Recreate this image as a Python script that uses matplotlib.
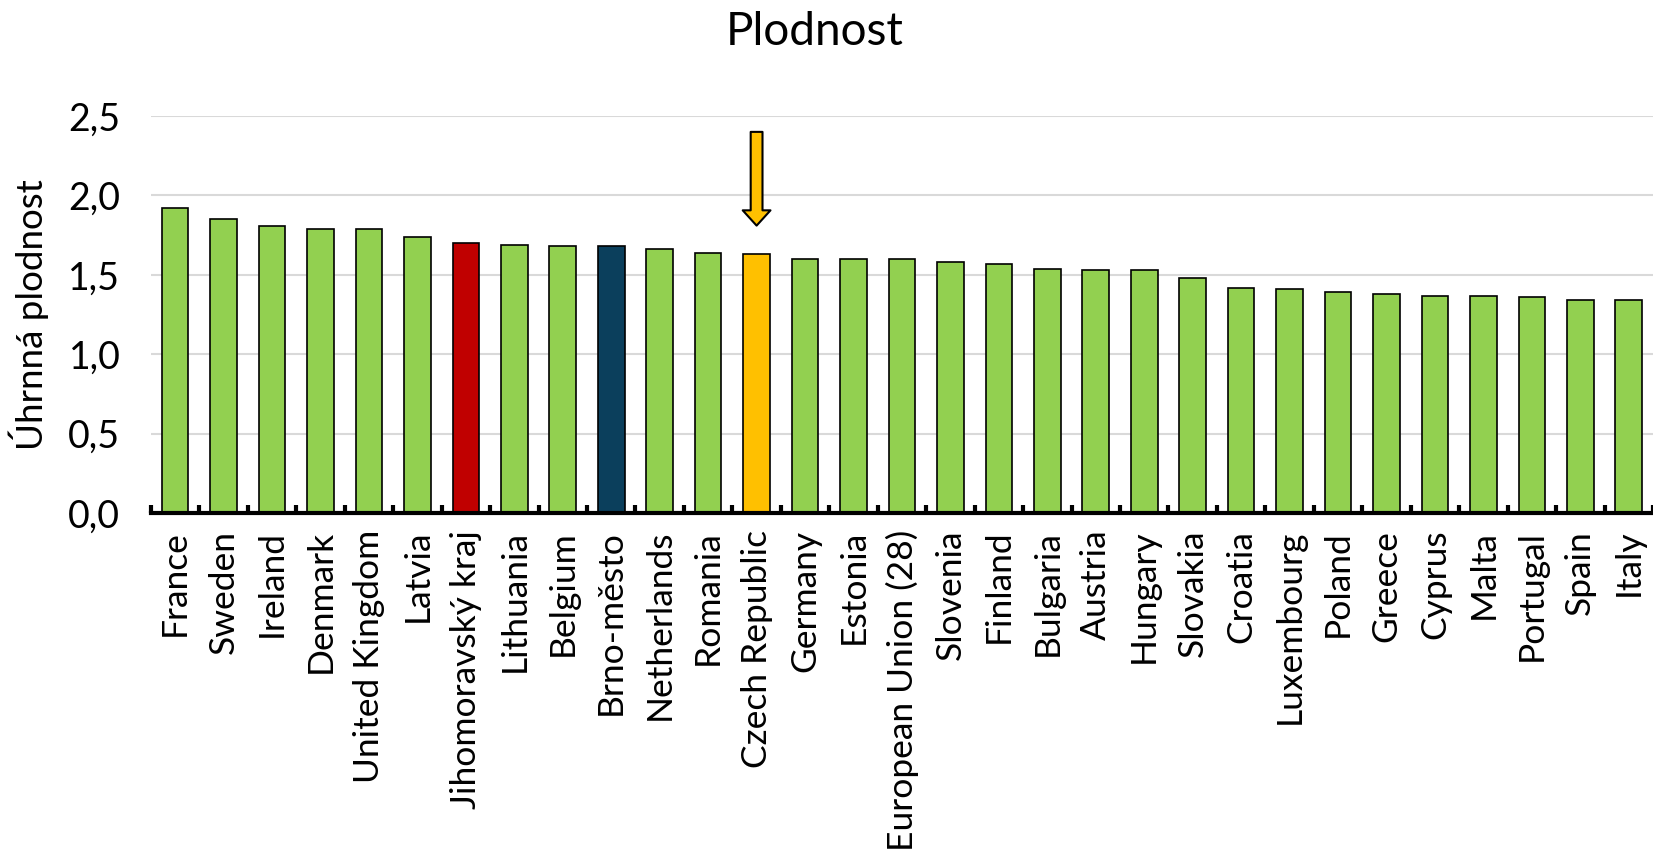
#!/usr/bin/env python
"""
Bar chart of total fertility rate (Plodnost) in EU countries and regions
"""

import matplotlib
matplotlib.use("Agg")
import matplotlib.pyplot as plt
from matplotlib.ticker import FixedLocator, FuncFormatter

# Data
countries = ["France", "Sweden", "Ireland", "Denmark", "United Kingdom",
             "Latvia", "Jihomoravský kraj", "Lithuania", "Belgium",
             "Brno-město", "Netherlands", "Romania", "Czech Republic",
             "Germany", "Estonia", "European Union (28)", "Slovenia",
             "Finland", "Bulgaria", "Austria", "Hungary", "Slovakia",
             "Croatia", "Luxembourg", "Poland", "Greece", "Cyprus", "Malta",
             "Portugal", "Spain", "Italy"]
fertility = [1.92, 1.85, 1.81, 1.79, 1.79, 1.74, 1.70, 1.69, 1.68, 1.68,
             1.66, 1.64, 1.63, 1.60, 1.60, 1.60, 1.58, 1.57, 1.54, 1.53,
             1.53, 1.48, 1.42, 1.41, 1.39, 1.38, 1.37, 1.37, 1.36, 1.34,
             1.34]

# Highlighted bars
highlight = {"Jihomoravský kraj": "#C00000",
             "Brno-město": "#0B3F5C",
             "Czech Republic": "#FFC000"}
arrow_target = "Czech Republic"
arrow_from, arrow_to = 2.40, 1.81

plt.rcParams['font.family'] = ['Lato', 'DejaVu Sans']

fig = plt.figure(figsize=(16.53, 8.51), dpi=100)
ax = fig.add_axes([0.0913, 0.397, 0.9087, 0.4667])

colors = [highlight.get(c, "#92D050") for c in countries]
x = list(range(len(countries)))
ax.bar(x, fertility, width=0.55, color=colors, edgecolor="black",
       linewidth=1.2, zorder=3)

# arrow pointing at the Czech Republic
ix = countries.index(arrow_target)
ax.annotate("", xy=(ix, arrow_to), xytext=(ix, arrow_from),
            arrowprops=dict(facecolor="#FFC000", edgecolor="black",
                            width=8.5, headwidth=20, headlength=11,
                            linewidth=1.5, shrink=0),
            zorder=4)

ax.set_xlim(-0.5, len(countries) - 0.5)
ax.set_ylim(0, 2.5)
ax.set_yticks([0, 0.5, 1.0, 1.5, 2.0, 2.5])
ax.yaxis.set_major_formatter(FuncFormatter(lambda v, p: f"{v:.1f}".replace(".", ",")))
ax.tick_params(axis="y", length=0, labelsize=27, pad=22)
ax.grid(axis="y", color="#D9D9D9", linewidth=1.5, zorder=0)

ax.set_xticks(x)
ax.set_xticklabels(countries, rotation=90, fontsize=25.5)
ax.tick_params(axis="x", which="major", length=0, pad=12)
ax.xaxis.set_minor_locator(FixedLocator([i - 0.5 for i in range(len(countries) + 1)]))
ax.tick_params(axis="x", which="minor", direction="in", length=6, width=3,
               color="black")

for side in ["left", "right", "top"]:
    ax.spines[side].set_visible(False)
ax.spines["bottom"].set_linewidth(3)
ax.spines["bottom"].set_zorder(5)

ax.set_ylabel("Úhrnná plodnost", fontsize=26.5, labelpad=14)
fig.text(0.493, 0.962, "Plodnost", ha="center", va="center", fontsize=33)

fig.savefig("out.png", dpi=100)
